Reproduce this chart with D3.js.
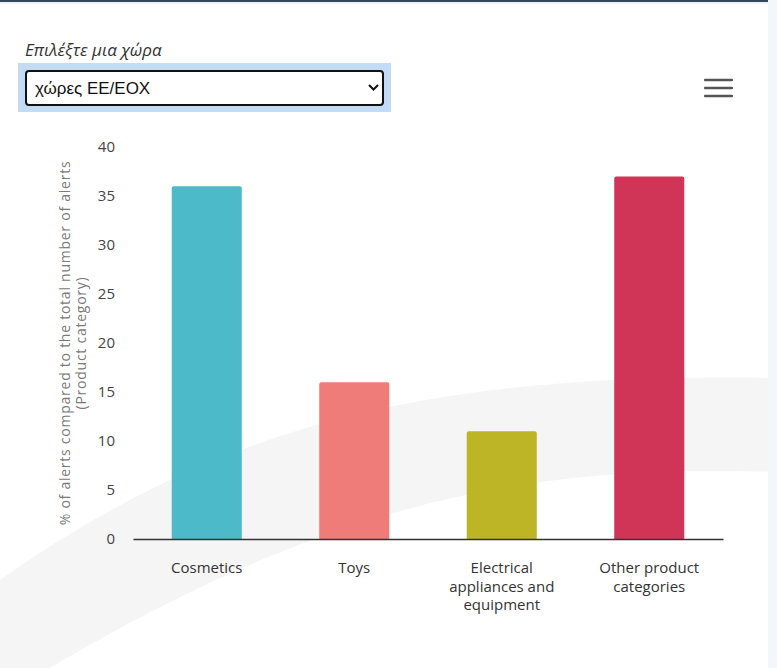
<!DOCTYPE html>
<html>
<head>
<meta charset="utf-8">
<script src="https://cdn.jsdelivr.net/npm/d3@7"></script>
<style>
    body { margin: 0; background: #fff; }
    svg { display: block; font-family: "Open Sans", "Noto Sans", sans-serif; }
</style>
</head>
<body>
<div id="chart"></div>
<script>
// data
var categories = ["Cosmetics", "Toys", "Electrical appliances and equipment", "Other product categories"];
var categoryLines = [["Cosmetics"], ["Toys"], ["Electrical", "appliances and", "equipment"], ["Other product", "categories"]];
var alertShare = [36, 16, 11, 37];
var barColors = ["#4cbac8", "#ef7c78", "#bdb526", "#d03457"];
var yTicks = [0, 5, 10, 15, 20, 25, 30, 35, 40];

var width = 777, height = 668;
var margin = {top: 147, right: 54, bottom: 129, left: 133};

var svg = d3.select("#chart").append("svg")
    .attr("width", width)
    .attr("height", height);

// background swoosh
svg.append("path")
    .attr("d", "M0,580 C200,440 400,370 777,378 L777,472 C550,465 350,490 50,668 L0,700 Z")
    .attr("fill", "#f5f5f5");

// right edge strip and top border
svg.append("rect")
    .attr("x", 768).attr("y", 0)
    .attr("width", 9).attr("height", height)
    .attr("fill", "#f3f6fa");
svg.append("rect")
    .attr("x", 0).attr("y", 0)
    .attr("width", 768).attr("height", 2)
    .attr("fill", "#36465a");
svg.append("rect")
    .attr("x", 0).attr("y", 2)
    .attr("width", 768).attr("height", 2)
    .attr("fill", "#eef2f7");

// country selector
svg.append("text")
    .attr("x", 25).attr("y", 56)
    .attr("font-size", 17)
    .attr("font-style", "italic")
    .attr("fill", "#333")
    .text("Επιλέξτε μια χώρα");
svg.append("rect")
    .attr("x", 18).attr("y", 63)
    .attr("width", 373).attr("height", 49)
    .attr("fill", "#c3dcf6");
svg.append("rect")
    .attr("x", 26).attr("y", 71)
    .attr("width", 357).attr("height", 34)
    .attr("rx", 3)
    .attr("fill", "#fff")
    .attr("stroke", "#111")
    .attr("stroke-width", 2);
svg.append("text")
    .attr("x", 35).attr("y", 94)
    .attr("font-family", "Arial, 'Liberation Sans', sans-serif")
    .attr("font-size", 17)
    .attr("fill", "#111")
    .text("χώρες ΕΕ/ΕΟΧ");
svg.append("path")
    .attr("d", "M369,85 L373.5,89.5 L378,85")
    .attr("fill", "none")
    .attr("stroke", "#111")
    .attr("stroke-width", 2);

// menu icon
svg.append("g")
    .selectAll("rect")
    .data([80, 88, 96])
    .enter()
    .append("rect")
    .attr("x", 704).attr("y", function (d) { return d - 1.3; })
    .attr("width", 29).attr("height", 2.6)
    .attr("rx", 1)
    .attr("fill", "#555");

var x = d3.scaleBand()
    .domain(categories)
    .range([margin.left, width - margin.right])
    .paddingInner(0.525)
    .paddingOuter(0.2625);

var y = d3.scaleLinear()
    .domain([0, 40])
    .range([height - margin.bottom, margin.top]);

// bars
svg.append("g")
    .selectAll("path")
    .data(alertShare)
    .enter()
    .append("path")
    .attr("d", function (d, i) {
        var x0 = x(categories[i]), w = x.bandwidth();
        var y0 = y(d), y1 = y(0), r = 2;
        return "M" + x0 + "," + y1 + "V" + (y0 + r) + "Q" + x0 + "," + y0 + " " + (x0 + r) + "," + y0 +
            "H" + (x0 + w - r) + "Q" + (x0 + w) + "," + y0 + " " + (x0 + w) + "," + (y0 + r) + "V" + y1 + "Z";
    })
    .attr("fill", function (d, i) { return barColors[i]; });

// y axis
var yAxis = svg.append("g")
    .attr("transform", "translate(" + (margin.left - 18) + ",0)")
    .call(d3.axisLeft(y).tickValues(yTicks).tickSize(0).tickPadding(0));
yAxis.select(".domain").remove();
yAxis.selectAll("text")
    .attr("font-family", "'Open Sans', sans-serif")
    .attr("font-size", 15)
    .attr("fill", "#444");

// x axis
var xAxis = svg.append("g")
    .attr("transform", "translate(0," + y(0) + ")")
    .call(d3.axisBottom(x).tickSize(0).tickFormat(""));
xAxis.select(".domain")
    .attr("stroke", "#333")
    .attr("stroke-width", 1.5);

xAxis.selectAll(".tick").each(function (d, i) {
    var t = d3.select(this).append("text")
        .attr("y", 34)
        .attr("text-anchor", "middle")
        .attr("font-family", "'Open Sans', sans-serif")
        .attr("font-size", 15)
        .attr("fill", "#333");
    t.selectAll("tspan")
        .data(categoryLines[i])
        .enter()
        .append("tspan")
        .attr("x", 0)
        .attr("dy", function (l, j) { return j === 0 ? 0 : 18.5; })
        .text(function (l) { return l; });
});

// y axis title
var yTitle = svg.append("text")
    .attr("transform", "translate(70," + ((y(0) + y(40)) / 2) + ") rotate(-90)")
    .attr("text-anchor", "middle")
    .attr("font-size", 14)
    .attr("letter-spacing", 0.75)
    .attr("fill", "#7a7a7a");
yTitle.append("tspan").attr("x", 0).attr("dy", 0)
    .text("% of alerts compared to the total number of alerts");
yTitle.append("tspan").attr("x", 0).attr("dy", 16)
    .text("(Product category)");
</script>
</body>
</html>
